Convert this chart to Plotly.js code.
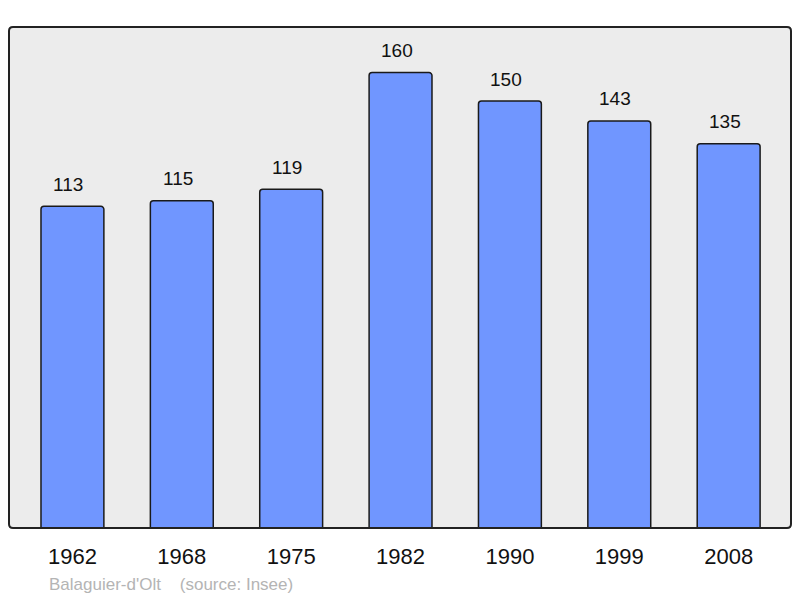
<!DOCTYPE html>
<html>
<head>
<meta charset="utf-8">
<script src="https://cdn.plot.ly/plotly-3.0.1.min.js"></script>
<style>html,body{margin:0;padding:0;background:#fff;}#chart{width:800px;height:598px;}</style>
</head>
<body>
<div id="chart"></div>
<script>
const years = ["1962", "1968", "1975", "1982", "1990", "1999", "2008"];
const population = [113, 115, 119, 160, 150, 143, 135];
const commune = "Balaguier-d'Olt";
const sourceLabel = "(source: Insee)";

const W = 800, H = 598;
const margin = {l: 9, r: 9, t: 27, b: 70, pad: 0};
const pw = W - margin.l - margin.r, ph = H - margin.t - margin.b;
const rx = 4 / pw, ry = 4 / ph;
function roundedRect() {
  return `M ${rx},0 L ${1 - rx},0 Q 1,0 1,${ry} L 1,${1 - ry} Q 1,1 ${1 - rx},1 L ${rx},1 Q 0,1 0,${1 - ry} L 0,${ry} Q 0,0 ${rx},0 Z`;
}

const font = "Liberation Sans, Arial, sans-serif";

const trace = {
  type: 'bar',
  x: years,
  y: population,
  width: 0.575,
  marker: {color: '#7096ff', line: {color: '#1a1a1a', width: 1.5}},
  hoverinfo: 'none'
};

const annotations = years.map((yr, i) => ({
  x: i, y: population[i], xref: 'x', yref: 'y',
  text: String(population[i]), showarrow: false,
  xanchor: 'center', yanchor: 'middle', yshift: 22, xshift: -4,
  font: {family: font, size: 19, color: '#111'}
}));
annotations.push({
  xref: 'paper', yref: 'paper', x: 38 / pw, y: 0, yshift: -56,
  xanchor: 'left', yanchor: 'middle', showarrow: false,
  text: commune + '\u00a0\u00a0\u00a0 ' + sourceLabel,
  font: {family: font, size: 17, color: '#b4b4b4'}
});

const layout = {
  width: W, height: H, margin: margin,
  paper_bgcolor: '#ffffff', plot_bgcolor: 'rgba(0,0,0,0)',
  showlegend: false,
  barcornerradius: 3,
  font: {family: font},
  xaxis: {
    type: 'category', range: [-0.58, 6.57],
    showgrid: false, zeroline: false, showline: false,
    ticks: '', ticklabelstandoff: 13,
    tickfont: {family: font, size: 22, color: '#111'}
  },
  yaxis: {
    range: [0, 176], showgrid: false, zeroline: false,
    showline: false, showticklabels: false, ticks: ''
  },
  shapes: [
    {type: 'path', xref: 'paper', yref: 'paper', path: roundedRect(),
     fillcolor: '#ececec', line: {width: 0}, layer: 'below'},
    {type: 'path', xref: 'paper', yref: 'paper', path: roundedRect(),
     fillcolor: 'rgba(0,0,0,0)', line: {color: '#222', width: 2}, layer: 'above'}
  ],
  annotations: annotations
};

Plotly.newPlot('chart', [trace], layout, {displayModeBar: false, staticPlot: true});
</script>
</body>
</html>
